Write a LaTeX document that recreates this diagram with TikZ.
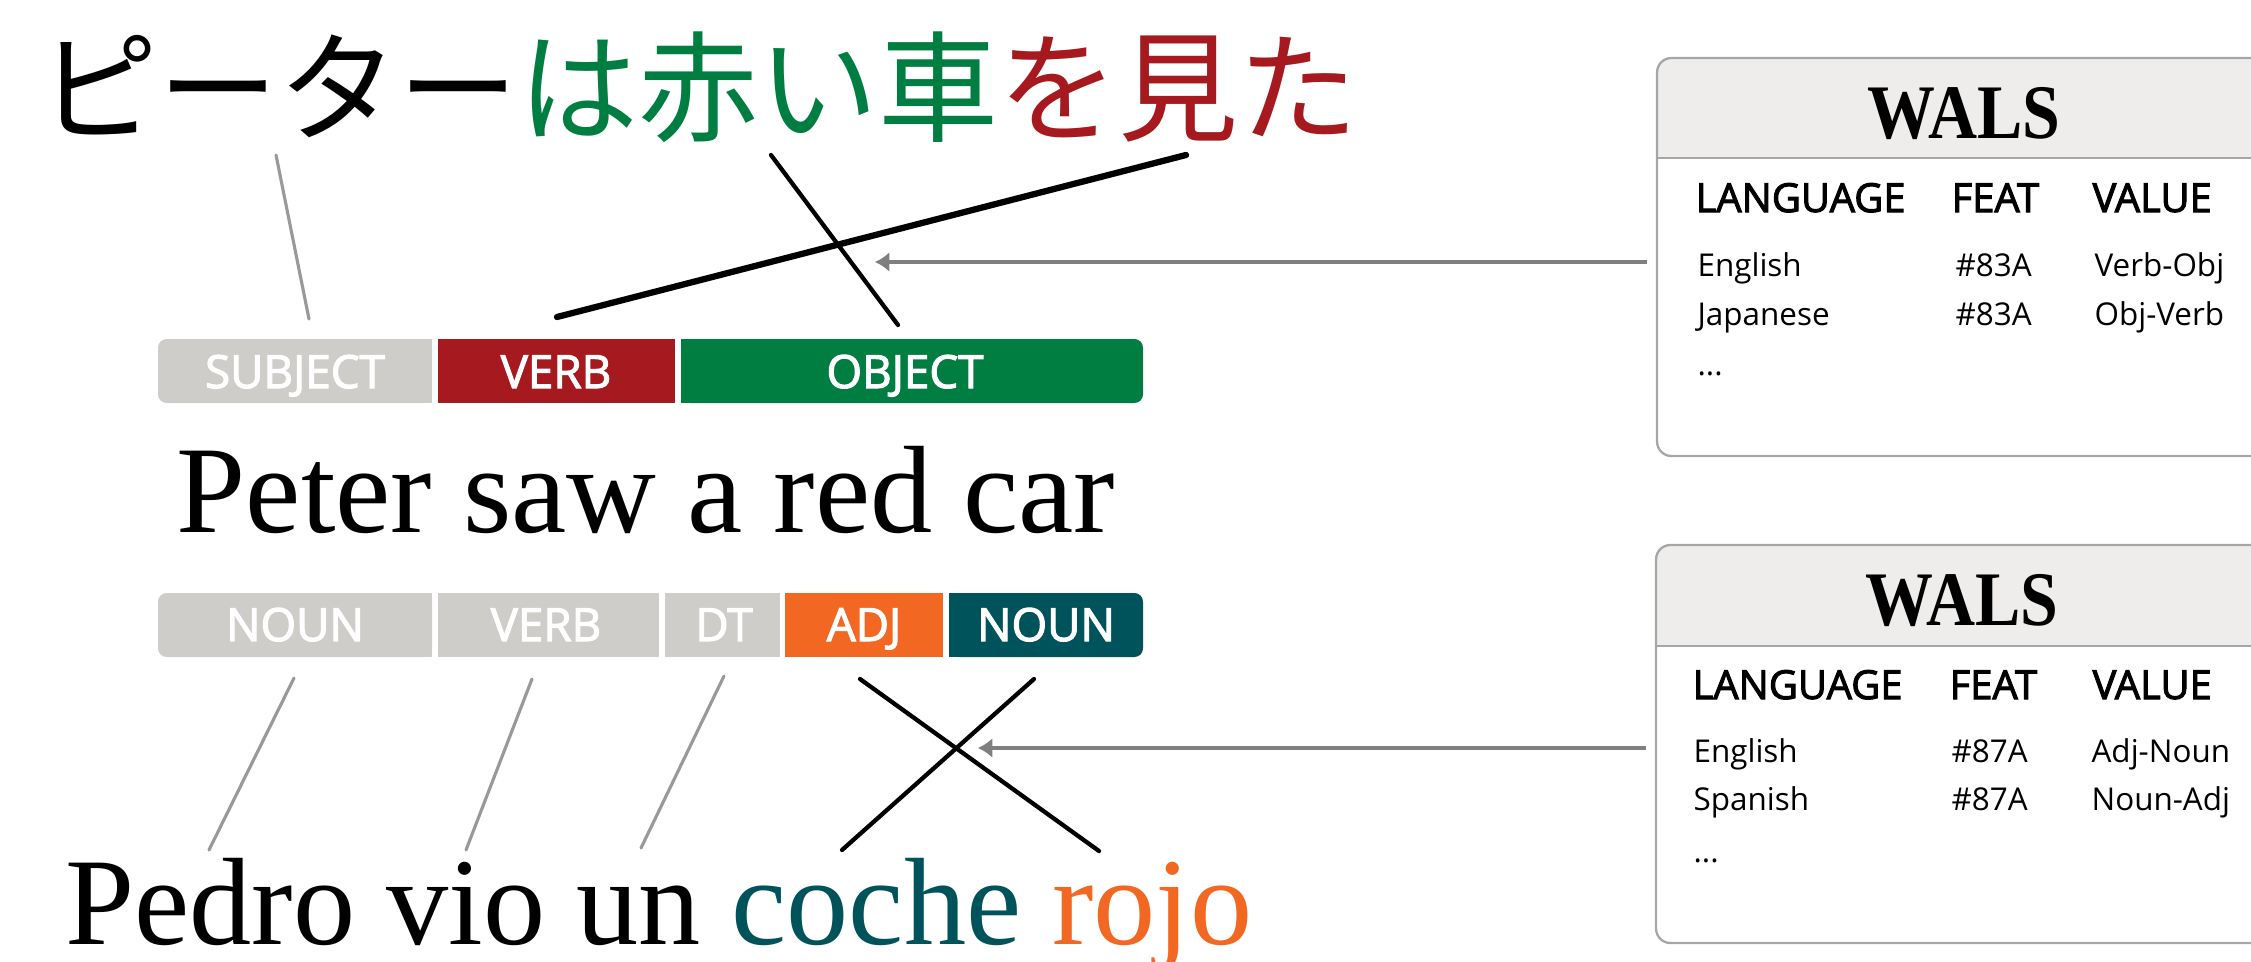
\documentclass[tikz,border=0pt]{standalone}
\usepackage{fontspec}
\usetikzlibrary{arrows.meta}
\newfontfamily\jpfont{Noto Sans CJK JP}
\newfontfamily\osfont{Open Sans}
\newfontfamily\oshead[FakeBold=2.5]{Open Sans}
\newfontfamily\serfont{Liberation Serif}
\newfontfamily\walsfont[FakeStretch=0.88]{Liberation Serif}
\definecolor{ogreen}{HTML}{007D40}
\definecolor{vred}{HTML}{A6191E}
\definecolor{barg}{HTML}{CFCDCA}
\definecolor{adjor}{HTML}{F26722}
\definecolor{nteal}{HTML}{00535B}
\definecolor{lineg}{HTML}{999999}
\definecolor{arrg}{HTML}{7F7F7F}
\definecolor{boxg}{HTML}{A6A6A6}
\definecolor{headg}{HTML}{EEEDEB}
\tikzset{
  barlbl/.style={font=\oshead\fontsize{16}{19}\selectfont, text=white, anchor=base, inner sep=0pt},
  greyline/.style={draw=lineg, line width=1.1pt, line cap=round},
  blkline/.style={draw=black, line width=1.5pt, line cap=round},
  thkline/.style={draw=black, line width=2.2pt, line cap=round},
  warrow/.style={draw=arrg, line width=1.4pt, -{Latex[length=5pt,width=7pt]}},
  thhead/.style={font=\oshead\fontsize{14}{17}\selectfont, anchor=base west, inner sep=0pt},
  tdcell/.style={font=\osfont\fontsize{11}{13}\selectfont, anchor=base west, inner sep=0pt},
  walsttl/.style={font=\walsfont\bfseries\fontsize{27}{30}\selectfont, anchor=base, inner sep=0pt},
  bigtxt/.style={font=\serfont\fontsize{43.5}{50}\selectfont, anchor=base, inner sep=0pt},
  jptxt/.style={font=\jpfont\fontsize{42}{50}\selectfont, anchor=base west, inner sep=0pt},
  wbox/.style={draw=boxg, line width=0.8pt, rounded corners=5pt, minimum width=225pt, minimum height=139.3pt, inner sep=0pt},
}
\begin{document}
\begin{tikzpicture}[x=0.35pt,y=-0.35pt]
\useasboundingbox (0,0) rectangle (2251,961);
\clip (0,0) rectangle (2251,961);

% Japanese sentence
\node[jptxt] (ja) at (38,132) {ピーター\textcolor{ogreen}{は赤い車}\textcolor{vred}{を見た}};

% top bars
\fill[barg, rounded corners=3pt] (158,339) rectangle (432,403);
\fill[barg] (300,339) rectangle (432,403);
\fill[vred] (438,339) rectangle (675,403);
\fill[ogreen, rounded corners=3pt] (681,339) rectangle (1143,403);
\fill[ogreen] (681,339) rectangle (900,403);
\node[barlbl] (tSubj) at (295,388) {SUBJECT};
\node[barlbl] (tVerb) at (556,388) {VERB};
\node[barlbl] (tObj) at (905,388) {OBJECT};

% English sentence
\node[bigtxt] (en) at (646,532) {Peter saw a red car};

% bottom bars
\fill[barg, rounded corners=3pt] (158,593) rectangle (432,657);
\fill[barg] (300,593) rectangle (432,657);
\fill[barg] (438,593) rectangle (659,657);
\fill[barg] (665,593) rectangle (780,657);
\fill[adjor] (785,593) rectangle (943,657);
\fill[nteal, rounded corners=3pt] (949,593) rectangle (1143,657);
\fill[nteal] (949,593) rectangle (1040,657);
\node[barlbl] (bNoun) at (295,641) {NOUN};
\node[barlbl] (bVerb) at (546,641) {VERB};
\node[barlbl] (bDt) at (724,641) {DT};
\node[barlbl] (bAdj) at (864,641) {ADJ};
\node[barlbl] (bNoun2) at (1046,641) {NOUN};

% Spanish sentence
\node[bigtxt] (es) at (659,944) {Pedro vio un \textcolor{nteal}{coche} \textcolor{adjor}{rojo}};

% top alignment lines
\coordinate (jaS) at (276,155);
\coordinate (enS) at (309,319);
\coordinate (jaO) at (771,155);
\coordinate (enO) at (898,325);
\coordinate (jaV) at (1186,155);
\coordinate (enV) at (557,317);
\draw[greyline] (jaS) -- (enS);
\draw[blkline] (jaO) -- (enO);
\draw[thkline] (jaV) -- (enV);

% bottom alignment lines
\coordinate (n1a) at (294,678);
\coordinate (n1b) at (209,850);
\coordinate (v1a) at (532,679);
\coordinate (v1b) at (466,850);
\coordinate (d1a) at (724,676);
\coordinate (d1b) at (641,848);
\coordinate (ad1) at (860,679);
\coordinate (ad2) at (1099,851);
\coordinate (no1) at (1034,679);
\coordinate (no2) at (842,850);
\draw[greyline] (n1a) -- (n1b);
\draw[greyline] (v1a) -- (v1b);
\draw[greyline] (d1a) -- (d1b);
\draw[blkline] (ad1) -- (ad2);
\draw[blkline] (no1) -- (no2);

% top WALS box
\begin{scope}
  \clip[rounded corners=5pt] (1657,58) rectangle (2300,456);
  \fill[headg] (1657,58) rectangle (2300,158);
\end{scope}
\draw[draw=boxg, line width=0.8pt] (1657,158) -- (2300,158);
\node[wbox] (wals1) at (1978.5,257) {};
\node[walsttl] (w1t) at (1964,138) {WALS};
\node[thhead] (w1h1) at (1695,212) {LANGUAGE};
\node[thhead] (w1h2) at (1951,212) {FEAT};
\node[thhead] (w1h3) at (2092,212) {VALUE};
\node[tdcell] (w1a1) at (1697,276) {English};
\node[tdcell] (w1a2) at (1955,276) {\#83A};
\node[tdcell] (w1a3) at (2094,276) {Verb-Obj};
\node[tdcell] (w1b1) at (1697,325) {Japanese};
\node[tdcell] (w1b2) at (1955,325) {\#83A};
\node[tdcell] (w1b3) at (2094,325) {Obj-Verb};
\node[tdcell] (w1c1) at (1697,375) {...};

% bottom WALS box
\begin{scope}
  \clip[rounded corners=5pt] (1655,545) rectangle (2300,943);
  \fill[headg] (1655,545) rectangle (2300,646);
\end{scope}
\draw[draw=boxg, line width=0.8pt] (1655,646) -- (2300,646);
\node[wbox] (wals2) at (1977.5,744) {};
\node[walsttl] (w2t) at (1962,625) {WALS};
\node[thhead] (w2h1) at (1692,699) {LANGUAGE};
\node[thhead] (w2h2) at (1949,699) {FEAT};
\node[thhead] (w2h3) at (2092,699) {VALUE};
\node[tdcell] (w2a1) at (1693,762) {English};
\node[tdcell] (w2a2) at (1951,762) {\#87A};
\node[tdcell] (w2a3) at (2091,762) {Adj-Noun};
\node[tdcell] (w2b1) at (1693,810) {Spanish};
\node[tdcell] (w2b2) at (1951,810) {\#87A};
\node[tdcell] (w2b3) at (2091,810) {Noun-Adj};
\node[tdcell] (w2c1) at (1693,862) {...};

% arrows from WALS boxes
\coordinate (tipTop) at (875,262);
\coordinate (tipBot) at (978,748);
\draw[warrow] ([xshift=-3pt]wals1.west |- tipTop) -- (tipTop);
\draw[warrow] ([xshift=-3pt]wals2.west |- tipBot) -- (tipBot);
\end{tikzpicture}
\end{document}
